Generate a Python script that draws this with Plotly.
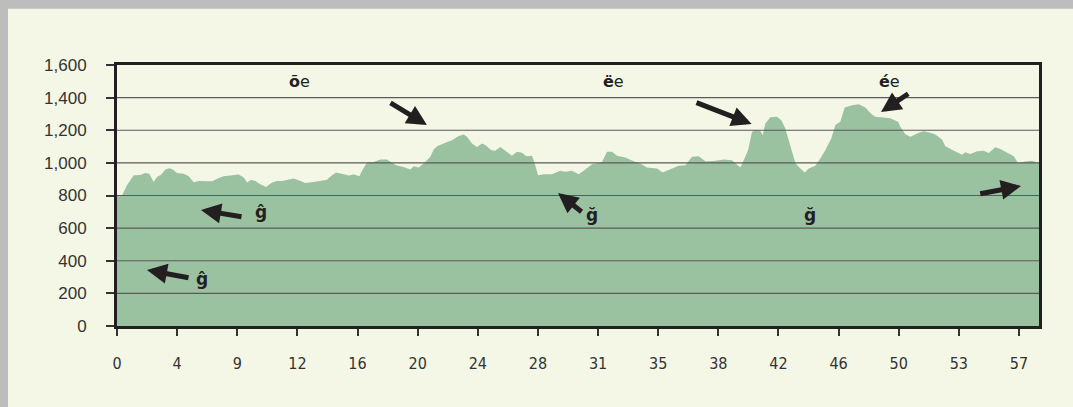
import plotly.graph_objects as go

# position along route, in label-interval units (0 = km 0, 15 = km 57)
dist_idx = [0.00, 0.083, 0.166, 0.278, 0.387, 0.471, 0.537, 0.610, 0.665, 0.737, 0.803, 0.870, 0.927, 0.998,
            1.109, 1.192, 1.276, 1.359, 1.580, 1.691, 1.774, 1.912, 2.024, 2.107, 2.162, 2.234, 2.300, 2.383,
            2.478, 2.566, 2.661, 2.744, 2.939, 3.022, 3.132, 3.271, 3.409, 3.492, 3.576, 3.642, 3.770, 3.853,
            3.937, 4.030, 4.086, 4.158, 4.269, 4.379, 4.490, 4.573, 4.640, 4.768, 4.878, 4.934, 5.017, 5.127,
            5.210, 5.267, 5.322, 5.460, 5.571, 5.683, 5.766, 5.821, 5.904, 5.987, 6.070, 6.125, 6.225, 6.291,
            6.374, 6.458, 6.569, 6.652, 6.735, 6.807, 6.902, 6.947, 7.002, 7.096, 7.234, 7.372, 7.456, 7.567,
            7.678, 7.788, 7.900, 7.983, 8.066, 8.149, 8.232, 8.315, 8.453, 8.593, 8.703, 8.814, 8.981, 9.075,
            9.175, 9.341, 9.451, 9.563, 9.674, 9.784, 9.924, 10.090, 10.228, 10.311, 10.366, 10.422, 10.494,
            10.561, 10.627, 10.698, 10.738, 10.782, 10.865, 10.976, 11.048, 11.114, 11.171, 11.225, 11.281,
            11.364, 11.437, 11.503, 11.613, 11.696, 11.779, 11.879, 11.946, 12.029, 12.102, 12.224, 12.335,
            12.445, 12.544, 12.611, 12.751, 12.860, 12.988, 13.027, 13.110, 13.193, 13.333, 13.416, 13.526,
            13.609, 13.720, 13.775, 13.886, 13.986, 14.053, 14.108, 14.191, 14.302, 14.414, 14.497, 14.607,
            14.690, 14.829, 14.913, 14.984, 15.105, 15.217, 15.284, 15.333]

elevation = [805, 800, 863, 924, 926, 938, 934, 883, 914, 928, 959, 967, 959, 938,
             934, 918, 881, 889, 887, 908, 918, 922, 928, 910, 879, 897, 889, 869,
             852, 877, 889, 889, 904, 893, 877, 883, 889, 897, 924, 941, 930, 922,
             930, 918, 959, 1002, 1006, 1020, 1020, 1000, 986, 975, 959, 980, 971, 1006,
             1037, 1082, 1102, 1123, 1139, 1164, 1174, 1160, 1119, 1098, 1119, 1109, 1078, 1074,
             1098, 1074, 1043, 1068, 1062, 1041, 1043, 996, 924, 930, 930, 951, 945, 951,
             930, 959, 992, 996, 1006, 1068, 1068, 1043, 1033, 1010, 996, 971, 965, 941,
             955, 982, 986, 1037, 1041, 1010, 1012, 1020, 1016, 992, 971, 1016, 1078,
             1191, 1201, 1197, 1170, 1242, 1279, 1283, 1262, 1211, 1139, 1068, 1000,
             965, 941, 965, 982, 1027, 1078, 1150, 1232, 1252, 1340, 1353, 1359,
             1340, 1299, 1283, 1279, 1273, 1252, 1221, 1176, 1160, 1184, 1194, 1184,
             1174, 1143, 1102, 1081, 1065, 1050, 1065, 1055, 1071, 1075, 1060, 1096,
             1085, 1057, 1040, 999, 1009, 1013, 1003, 1000]

x_tick_pos = list(range(16))
x_tick_labels = ["0", "4", "9", "12", "16", "20", "24", "28", "31", "35", "38", "42", "46", "50", "53", "57"]
y_ticks = [0, 200, 400, 600, 800, 1000, 1200, 1400, 1600]

# text labels (as shown)
top_labels = ["õe", "ëe", "ée"]
top_label_x = [3.043, 8.265, 12.855]
top_label_y = [1496, 1496, 1496]
low_labels = ["ĝ", "ĝ", "ğ", "ğ"]
low_label_x = [2.395, 1.413, 7.90, 11.524]
low_label_y = [699, 288, 680, 680]

# arrows: head (x, y) and tail (ax, ay)
arrow_x = [1.397, 0.499, 5.155, 7.334, 10.554, 12.706, 15.034]
arrow_y = [711, 343, 1232, 815, 1238, 1312, 858]
arrow_ax = [2.095, 1.214, 4.523, 7.750, 9.612, 13.183, 14.331]
arrow_ay = [668, 294, 1373, 693, 1373, 1430, 809]

BG = "#F4F7E6"
FILL = "#9AC2A1"
INK = "#231F20"

fig = go.Figure()
fig.add_trace(go.Scatter(
    x=dist_idx, y=elevation, mode="lines", fill="tozeroy",
    fillcolor=FILL, line=dict(width=0, color=FILL), hoverinfo="skip", showlegend=False,
))

for v in y_ticks[1:-1]:
    fig.add_shape(type="line", xref="paper", x0=0, x1=1, yref="y", y0=v, y1=v,
                  line=dict(color="#5A5A5A", width=1.2), layer="above")

for x, y, ax, ay in zip(arrow_x, arrow_y, arrow_ax, arrow_ay):
    fig.add_annotation(x=x, y=y, ax=ax, ay=ay, xref="x", yref="y", axref="x", ayref="y",
                       showarrow=True, arrowhead=2, arrowsize=0.8, arrowwidth=5,
                       arrowcolor=INK, text="")

for t, x, y in zip(top_labels, top_label_x, top_label_y):
    fig.add_annotation(x=x, y=y, text="<b>" + t[0] + "</b>" + t[1:], showarrow=False, xref="x", yref="y",
                       font=dict(family="DejaVu Sans", size=16, color=INK))
for t, x, y in zip(low_labels, low_label_x, low_label_y):
    fig.add_annotation(x=x, y=y, text="<b>" + t + "</b>", showarrow=False, xref="x", yref="y",
                       font=dict(family="DejaVu Sans", size=17, color=INK))

# gray frame strips (top and left)
fig.add_shape(type="rect", xref="paper", yref="paper", x0=-0.2, x1=(8 - 117) / 922,
              y0=-0.5, y1=1.3, fillcolor="#BDBDBD", line=dict(width=0), layer="below")
fig.add_shape(type="rect", xref="paper", yref="paper", x0=-0.2, x1=1.1,
              y0=(326 - 8.7) / 261, y1=1.3, fillcolor="#BDBDBD", line=dict(width=0), layer="below")

fig.update_layout(
    width=1073, height=407,
    margin=dict(l=117, r=34, t=65, b=81),
    paper_bgcolor=BG, plot_bgcolor=BG,
    showlegend=False,
    xaxis=dict(range=[0, 15.333], tickmode="array", tickvals=x_tick_pos, ticktext=x_tick_labels,
               showgrid=False, zeroline=False, showline=True, mirror=True, linewidth=3, linecolor=INK,
               ticks="outside", ticklen=7, tickwidth=2, tickcolor="#333333",
               ticklabelstandoff=14,
               tickfont=dict(family="Liberation Sans Narrow, DejaVu Sans Condensed, Arial Narrow, sans-serif",
                             size=16, color="#333333")),
    yaxis=dict(range=[0, 1600], tickmode="array", tickvals=y_ticks, tickformat=",",
               showgrid=False, zeroline=False, showline=True, mirror=True, linewidth=3, linecolor=INK,
               ticks="outside", ticklen=8, tickwidth=2, tickcolor="#333333",
               ticklabelstandoff=16,
               tickfont=dict(family="Liberation Sans, Arial, sans-serif", size=17, color="#333333")),
)

fig.write_html("out.html", config={"displayModeBar": False},
               post_script="document.body.style.margin='0';document.body.style.overflow='hidden';")
